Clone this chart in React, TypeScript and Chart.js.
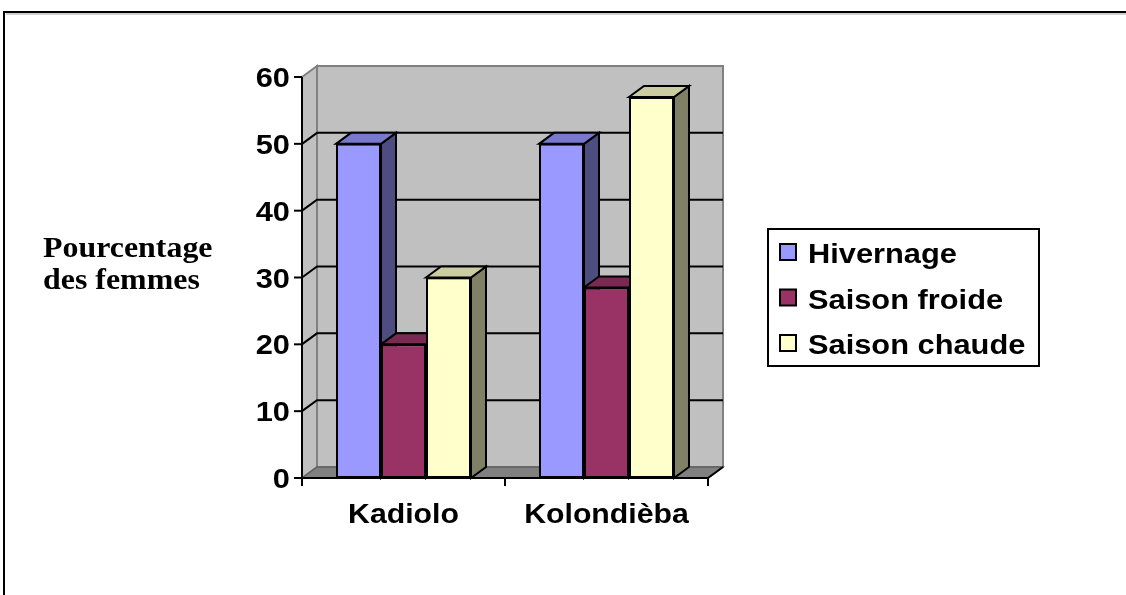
import React, { useEffect, useRef } from "react";
import { Chart, registerables } from "chart.js";

Chart.register(...registerables);

const categories = ["Kadiolo", "Kolondièba"];
const seriesNames = ["Hivernage", "Saison froide", "Saison chaude"];
const hivernage = [50, 50];
const saisonFroide = [20, 28.5];
const saisonChaude = [30, 57];
const yTicks = [0, 10, 20, 30, 40, 50, 60];
const yTitleLines = ["Pourcentage", "des femmes"];

const frontColors = ["#9999FF", "#993366", "#FFFFCC"];
const topColors = ["#7878CC", "#7A2952", "#CCCCA3"];
const sideColors = ["#4D4D80", "#4D1A33", "#808066"];

const DX = 15;
const DY = -11;
const SANS = '"Liberation Sans", Arial, sans-serif';
const SERIF = '"Liberation Serif", "Times New Roman", serif';

function poly(ctx: CanvasRenderingContext2D, pts: number[][], fill: string | null, stroke: string | null, lw = 2) {
  ctx.beginPath();
  ctx.moveTo(pts[0][0], pts[0][1]);
  for (let i = 1; i < pts.length; i++) ctx.lineTo(pts[i][0], pts[i][1]);
  ctx.closePath();
  if (fill) {
    ctx.fillStyle = fill;
    ctx.fill();
  }
  if (stroke) {
    ctx.strokeStyle = stroke;
    ctx.lineWidth = lw;
    ctx.lineJoin = "miter";
    ctx.stroke();
  }
}

function line(ctx: CanvasRenderingContext2D, pts: number[][], color: string, lw = 2) {
  ctx.beginPath();
  ctx.moveTo(pts[0][0], pts[0][1]);
  for (let i = 1; i < pts.length; i++) ctx.lineTo(pts[i][0], pts[i][1]);
  ctx.strokeStyle = color;
  ctx.lineWidth = lw;
  ctx.stroke();
}

function txt(ctx: CanvasRenderingContext2D, s: string, x: number, y: number, align: CanvasTextAlign, font: string, sx = 1.1) {
  ctx.save();
  ctx.font = font;
  ctx.fillStyle = "#000";
  ctx.textBaseline = "alphabetic";
  ctx.textAlign = align;
  ctx.translate(x, y);
  ctx.scale(sx, 1);
  ctx.fillText(s, 0, 0);
  ctx.restore();
}

const excel3d = {
  id: "excel3d",
  beforeDatasetsDraw(chart: any) {
    const ctx: CanvasRenderingContext2D = chart.ctx;
    const { left, right, top, bottom } = chart.chartArea;
    const ys = chart.scales.y;
    ctx.save();
    // back wall
    poly(ctx, [[left + DX, top + DY], [right + DX, top + DY], [right + DX, bottom + DY], [left + DX, bottom + DY]], "#C0C0C0", "#808080", 2);
    // left wall
    poly(ctx, [[left, top], [left + DX, top + DY], [left + DX, bottom + DY], [left, bottom]], "#C0C0C0", "#808080", 2);
    // floor
    poly(ctx, [[left, bottom], [left + DX, bottom + DY], [right + DX, bottom + DY], [right, bottom]], "#808080", "#606060", 1.5);
    // gridlines
    for (const v of yTicks) {
      if (v <= ys.min || v >= ys.max) continue;
      const py = ys.getPixelForValue(v);
      line(ctx, [[left, py], [left + DX, py + DY], [right + DX, py + DY]], "#000", 2);
    }
    // floor right edge
    line(ctx, [[right, bottom], [right + DX, bottom + DY]], "#000", 2);
    // bars sides and tops
    const bars: any[] = [];
    chart.data.datasets.forEach((ds: any, di: number) => {
      const meta = chart.getDatasetMeta(di);
      meta.data.forEach((el: any) => bars.push({ el, di }));
    });
    bars.sort((a, b) => a.el.x - b.el.x);
    for (const { el, di } of bars) {
      const l = el.x - el.width / 2;
      const r = el.x + el.width / 2;
      const t = el.y;
      const b = el.base;
      poly(ctx, [[r, t], [r + DX, t + DY], [r + DX, b + DY], [r, b]], sideColors[di], "#000", 2);
      poly(ctx, [[l, t], [l + DX, t + DY], [r + DX, t + DY], [r, t]], topColors[di], "#000", 2);
    }
    ctx.restore();
  },
  afterDatasetsDraw(chart: any) {
    const ctx: CanvasRenderingContext2D = chart.ctx;
    const { left, right, top, bottom } = chart.chartArea;
    const ys = chart.scales.y;
    const xs = chart.scales.x;
    ctx.save();
    // y axis
    line(ctx, [[left, top], [left, bottom + 1]], "#000", 2);
    for (const v of yTicks) {
      const py = ys.getPixelForValue(v);
      line(ctx, [[left - 8, py], [left, py]], "#000", 2);
      txt(ctx, String(v), left - 12, py + 10, "right", `bold 28px ${SANS}`);
    }
    // x axis
    line(ctx, [[left - 1, bottom], [right, bottom]], "#000", 2);
    const n = categories.length;
    const bounds: number[] = [left];
    for (let i = 0; i < n - 1; i++) bounds.push((xs.getPixelForValue(i) + xs.getPixelForValue(i + 1)) / 2);
    bounds.push(right);
    for (const bx of bounds) line(ctx, [[bx, bottom], [bx, bottom + 8]], "#000", 2);
    categories.forEach((c, i) => {
      txt(ctx, c, xs.getPixelForValue(i), bottom + 45, "center", `bold 28px ${SANS}`, 1.08);
    });
    ctx.restore();
  },
  afterDraw(chart: any) {
    const ctx: CanvasRenderingContext2D = chart.ctx;
    ctx.save();
    // y title
    txt(ctx, yTitleLines[0], 43, 257, "left", `bold 29px ${SERIF}`, 1.1);
    txt(ctx, yTitleLines[1], 43, 289, "left", `bold 29px ${SERIF}`, 1.1);
    // legend
    const lx = 768, ly = 229, lw = 271, lh = 137;
    ctx.strokeStyle = "#000";
    ctx.lineWidth = 2;
    ctx.strokeRect(lx, ly, lw, lh);
    chart.data.datasets.forEach((ds: any, i: number) => {
      const base = 263 + i * 45.5;
      ctx.fillStyle = frontColors[i];
      ctx.fillRect(780, base - 19, 16, 16);
      ctx.strokeStyle = "#000";
      ctx.lineWidth = 2;
      ctx.strokeRect(780, base - 19, 16, 16);
      txt(ctx, ds.label, 808, base, "left", `bold 28px ${SANS}`, 1.1);
    });
    // outer frame
    line(ctx, [[4, 595], [4, 12], [1126, 12]], "#000", 2);
    line(ctx, [[6, 14], [1126, 14]], "#A0A0A0", 1);
    ctx.restore();
  },
};

export default function App() {
  const ref = useRef<HTMLCanvasElement | null>(null);
  useEffect(() => {
    if (!ref.current) return;
    const chart = new Chart(ref.current, {
      type: "bar",
      data: {
        labels: categories,
        datasets: [
          { label: seriesNames[0], data: hivernage, backgroundColor: frontColors[0] },
          { label: seriesNames[1], data: saisonFroide, backgroundColor: frontColors[1] },
          { label: seriesNames[2], data: saisonChaude, backgroundColor: frontColors[2] },
        ].map((d) => ({ ...d, borderColor: "#000", borderWidth: 2, borderSkipped: false as any, categoryPercentage: 0.665, barPercentage: 1 })),
      },
      options: {
        responsive: false,
        animation: false,
        layout: { padding: { left: 302, right: 418, top: 77, bottom: 117 } },
        scales: {
          x: { display: false, offset: true, grid: { display: false } },
          y: { display: false, min: 0, max: 60, grid: { display: false } },
        },
        plugins: { legend: { display: false }, tooltip: { enabled: false }, title: { display: false } },
      },
      plugins: [excel3d],
    });
    return () => chart.destroy();
  }, []);
  return (
    <div style={{ position: "fixed", left: 0, top: 0, width: 1126, height: 595, background: "#fff" }}>
      <canvas ref={ref} width={1126} height={595} style={{ display: "block", width: 1126, height: 595 }} />
    </div>
  );
}
